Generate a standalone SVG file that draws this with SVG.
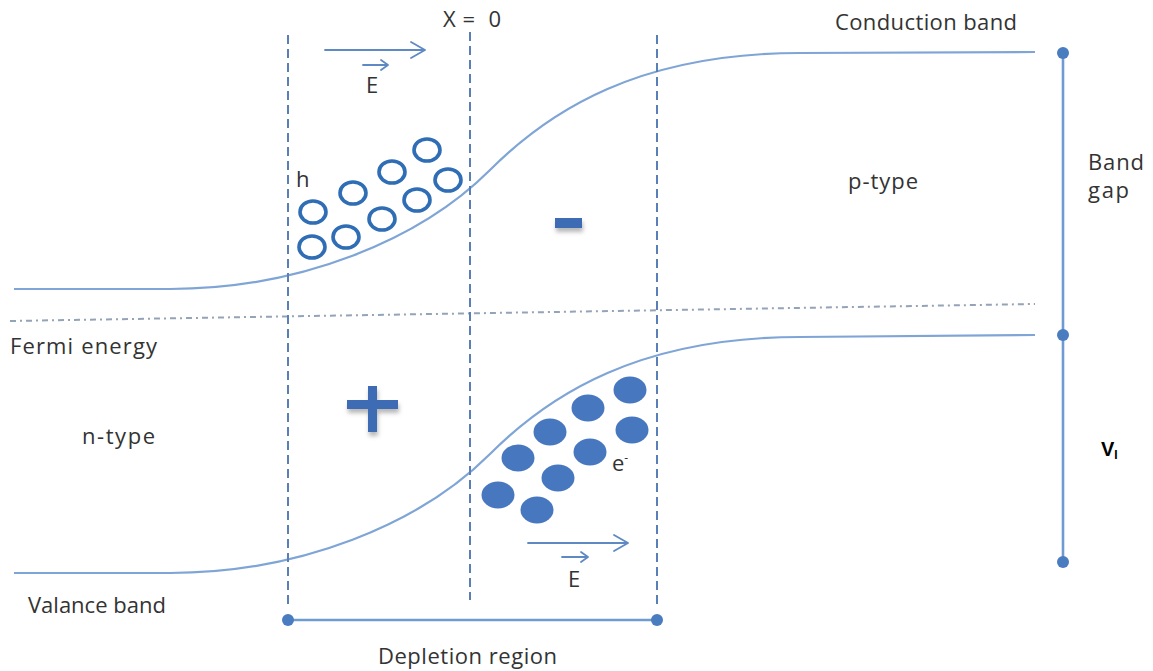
<svg xmlns="http://www.w3.org/2000/svg" width="1153" height="671" viewBox="0 0 1153 671">
<style>
.t{font-family:"Open Sans","Liberation Sans",sans-serif;fill:#333333;font-size:22px}
.band{fill:none;stroke:#7fa5d6;stroke-width:2.2}
.dash{fill:none;stroke:#5a7fb6;stroke-width:2;stroke-dasharray:9 5}
.arr{fill:none;stroke:#5f89c3;stroke-width:1.8;stroke-linecap:round;stroke-linejoin:round}
.hole{fill:none;stroke:#2f6db5;stroke-width:3.6}
.elec{fill:#4677bf}
.dot{fill:#4a7cc0}
.bar{stroke:#6f9bd2;stroke-width:2.6}
</style>
<defs>
<filter id="sh" x="-30%" y="-30%" width="160%" height="180%">
<feDropShadow dx="1" dy="4" stdDeviation="2" flood-color="#888" flood-opacity="0.6"/>
</filter>
</defs>
<rect width="1153" height="671" fill="#ffffff"/>

<g id="bands">
<path class="band" d="M14,289 L170,289 C300,289 420,240 490,170 C550,110 640,53 800,53 L1035,52"/>
<path class="band" d="M14,573 L170,573 C300,573 420,524 490,454 C550,394 640,337 800,337 L1035,335"/>
<line x1="10" y1="321" x2="1035" y2="304" stroke="#93a3b8" stroke-width="2" stroke-dasharray="6 4 2 4"/>
</g>

<g id="connectors">
<line class="dash" x1="288" y1="35" x2="288" y2="606"/>
<line class="dash" x1="470" y1="32" x2="470" y2="600"/>
<line class="dash" x1="657" y1="35" x2="657" y2="606"/>
<path class="arr" d="M325,50 L425,50 M411,42 L425,50 L411,58"/>
<path class="arr" d="M363,65 L388,65 M381,60 L388,65 L381,70"/>
<path class="arr" d="M528,543 L628,543 M614,535 L628,543 L614,551"/>
<path class="arr" d="M562,557 L588,557 M581,552 L588,557 L581,562"/>
<line class="bar" x1="1063" y1="53" x2="1063" y2="562"/>
<line class="bar" x1="288" y1="620" x2="657" y2="620"/>
</g>

<g id="dots">
<circle class="dot" cx="1063" cy="53" r="6"/>
<circle class="dot" cx="1063" cy="335" r="6"/>
<circle class="dot" cx="1063" cy="562" r="6"/>
<circle class="dot" cx="288" cy="620" r="6"/>
<circle class="dot" cx="657" cy="620" r="6"/>
</g>

<g id="holes">
<ellipse class="hole" cx="427" cy="150" rx="13" ry="11"/>
<ellipse class="hole" cx="392" cy="172" rx="13" ry="11"/>
<ellipse class="hole" cx="448" cy="180" rx="13" ry="11"/>
<ellipse class="hole" cx="353" cy="193" rx="13" ry="11"/>
<ellipse class="hole" cx="417" cy="200" rx="13" ry="11"/>
<ellipse class="hole" cx="313" cy="212" rx="13" ry="11"/>
<ellipse class="hole" cx="382" cy="219" rx="13" ry="11"/>
<ellipse class="hole" cx="346" cy="237" rx="13" ry="11"/>
<ellipse class="hole" cx="312" cy="247" rx="13" ry="11"/>
</g>

<g id="electrons">
<ellipse class="elec" cx="630" cy="390" rx="16.5" ry="13.5"/>
<ellipse class="elec" cx="632" cy="430" rx="16.5" ry="13.5"/>
<ellipse class="elec" cx="588" cy="408" rx="16.5" ry="13.5"/>
<ellipse class="elec" cx="590" cy="452" rx="16.5" ry="13.5"/>
<ellipse class="elec" cx="550" cy="432" rx="16.5" ry="13.5"/>
<ellipse class="elec" cx="558" cy="478" rx="16.5" ry="13.5"/>
<ellipse class="elec" cx="518" cy="458" rx="16.5" ry="13.5"/>
<ellipse class="elec" cx="498" cy="495" rx="16.5" ry="13.5"/>
<ellipse class="elec" cx="537" cy="510" rx="16.5" ry="13.5"/>
</g>

<g id="signs" fill="#3d6cb5" filter="url(#sh)">
<rect x="555" y="218" width="27" height="10"/>
<rect x="368" y="386" width="9" height="46"/>
<rect x="347" y="400" width="51" height="9"/>
</g>

<g id="labels">
<text class="t" x="443" y="27" textLength="58" xml:space="preserve">X =  0</text>
<text class="t" x="835" y="30" textLength="182">Conduction band</text>
<text class="t" x="366" y="93" font-size="19">E</text>
<text class="t" x="296" y="187" font-size="20">h</text>
<text class="t" x="848" y="189" textLength="70">p-type</text>
<text class="t" x="1088" y="170" textLength="56">Band</text>
<text class="t" x="1088" y="198" textLength="41">gap</text>
<text class="t" x="10" y="354" textLength="147">Fermi energy</text>
<text class="t" x="82" y="444" textLength="73">n-type</text>
<text x="1101" y="456" font-family="'Liberation Sans',Arial,sans-serif" font-weight="bold" font-size="20" fill="#000">V<tspan font-size="12" dy="3">I</tspan></text>
<text class="t" x="612" y="471" font-size="20">e<tspan font-size="12" dy="-9">-</tspan></text>
<text class="t" x="568" y="587" font-size="19">E</text>
<text class="t" x="28" y="613" font-size="23">Valance band</text>
<text class="t" x="378" y="664" textLength="179">Depletion region</text>
</g>
</svg>
